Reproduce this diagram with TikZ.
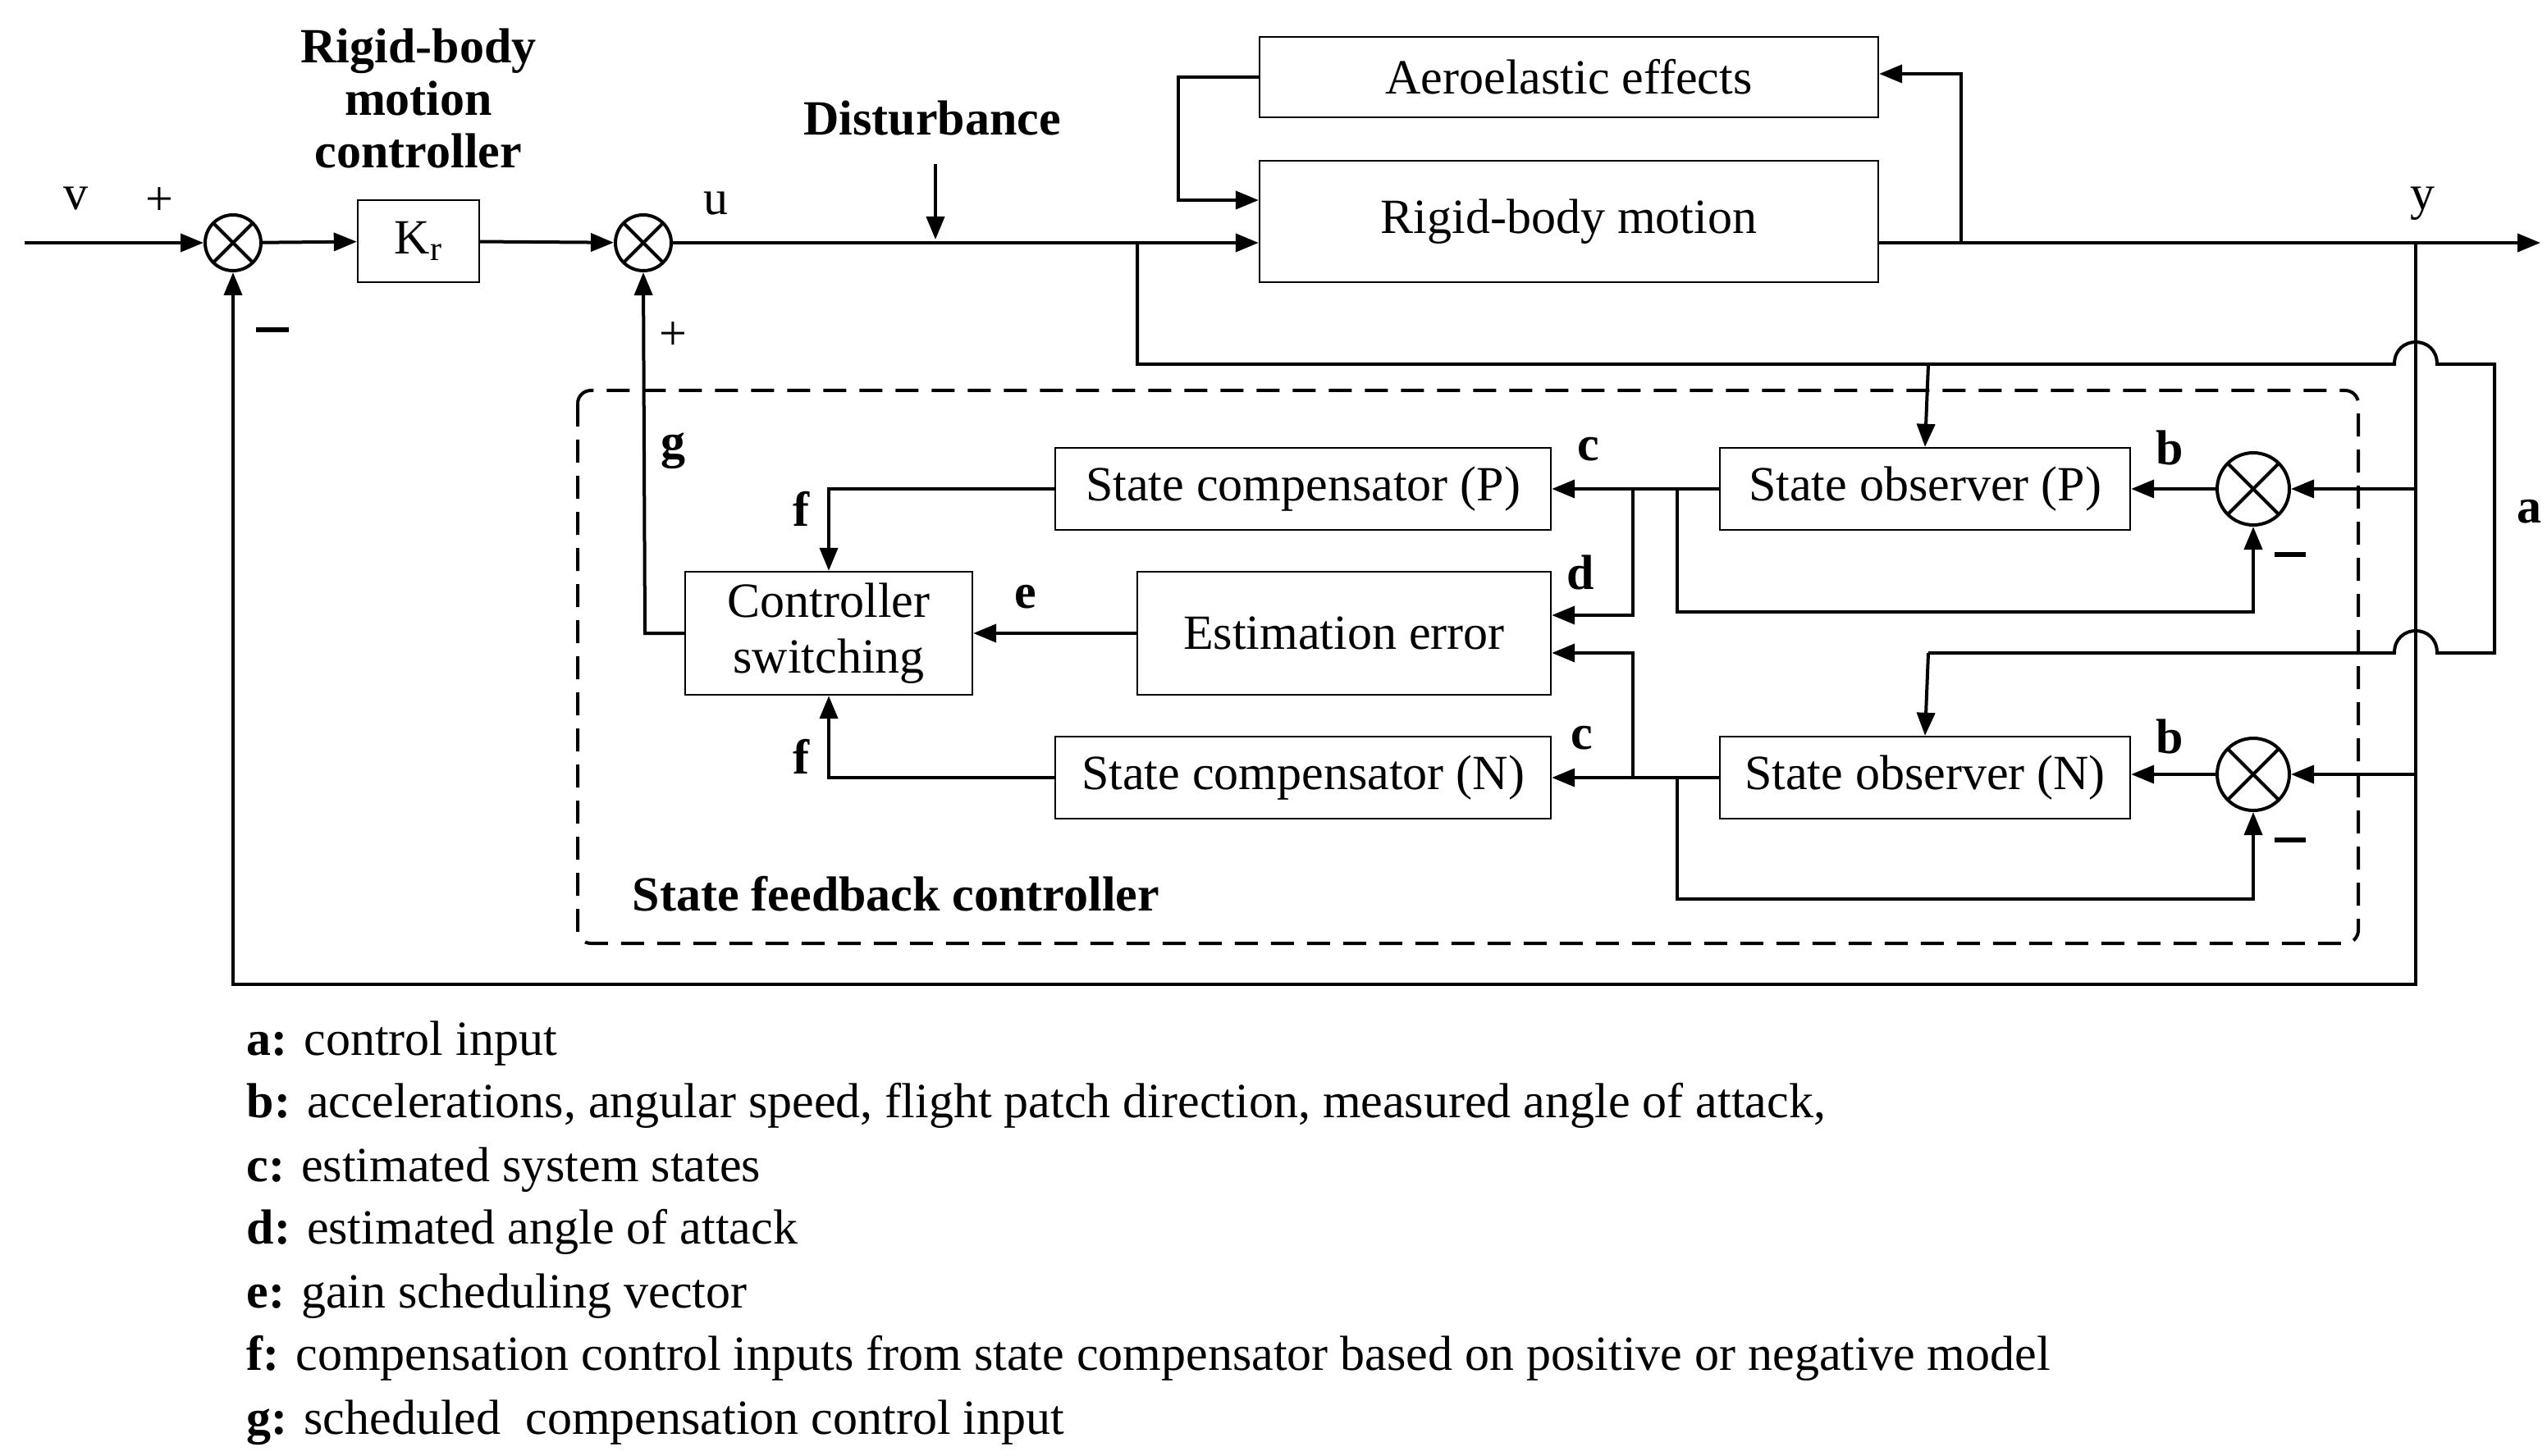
\documentclass[tikz,border=0pt]{standalone}
\usepackage{fontspec}
\setmainfont{Liberation Serif}
\usetikzlibrary{arrows.meta}
\begin{document}
\begin{tikzpicture}[x=1pt,y=-1pt,line width=2pt,
 every node/.style={font=\fontsize{30}{34}\selectfont},
 box/.style={draw,line width=1.2pt,inner sep=0pt,align=center},
 sum/.style={circle,draw,line width=2pt,minimum size=#1,inner sep=0pt,
   path picture={\draw[line width=2pt] (path picture bounding box.north west)--(path picture bounding box.south east)
   (path picture bounding box.north east)--(path picture bounding box.south west);}},
 arr/.style={-{Triangle[length=14pt,width=11pt]}},
 lab/.style={font=\fontsize{30}{32}\selectfont\bfseries},
 leg/.style={anchor=west,font=\fontsize{30}{32}\selectfont},
 minus/.style={line width=3pt}]
\useasboundingbox (0,0) rectangle (1552,887.5);
% nodes
\node[sum=34pt] (s1) at (142,148) {};
\node[box,minimum width=74pt,minimum height=50pt] (kr) at (255,147) {K$_\mathrm{r}$};
\node[sum=34pt] (s2) at (392,148) {};
\node[box,minimum width=377pt,minimum height=49pt] (ae) at (956,47) {Aeroelastic effects};
\node[box,minimum width=377pt,minimum height=74pt] (rb) at (956,135) {Rigid-body motion};
\node[box,minimum width=250pt,minimum height=50pt] (op) at (1173,298) {State observer (P)};
\node[box,minimum width=250pt,minimum height=50pt] (on) at (1173,474) {State observer (N)};
\node[box,minimum width=302pt,minimum height=50pt] (cp) at (794,298) {State compensator (P)};
\node[box,minimum width=302pt,minimum height=50pt] (cn) at (794,474) {State compensator (N)};
\node[box,minimum width=252pt,minimum height=75pt] (ee) at (819,386) {Estimation error};
\node[box,minimum width=175pt,minimum height=75pt] (cs) at (505,386) {Controller\\switching};
\node[sum=44pt] (sp) at (1373,298) {};
\node[sum=44pt] (sn) at (1373,472) {};
\draw[dash pattern=on 14pt off 8pt,line width=2pt,rounded corners=8pt] (352,238) rectangle (1437,575);
% labels
\node[lab,align=center] (t1) at (255,60) {Rigid-body\\motion\\controller};
\node (v) at (46,121) {v};
\node (p1) at (97,123) {+};
\node (u) at (436,124) {u};
\node (p2) at (410,205) {+};
\node[lab] (dist) at (568,72) {Disturbance};
\node (y) at (1476,124) {y};
\node[lab] (la) at (1541,312) {a};
\node[lab] (lb1) at (1322,273) {b};
\node[lab] (lb2) at (1322,449) {b};
\node[lab] (lc1) at (968,274) {c};
\node[lab] (lc2) at (964,450) {c};
\node[lab] (ld) at (963,349) {d};
\node[lab] (le) at (625,364) {e};
\node[lab] (lf1) at (488,310) {f};
\node[lab] (lf2) at (488,461) {f};
\node[lab] (lg) at (410,275) {g};
\node[lab] (sfc) at (546,545) {State feedback controller};
\draw[minus] (156,201) -- (176,201);
\draw[minus] (1386,338) -- (1405,338);
\draw[minus] (1386,512) -- (1405,512);
% legend
\node[leg] at (146,636) {\textbf{a:} control input};
\node[leg] at (146,674) {\textbf{b:} accelerations, angular speed, flight patch direction, measured angle of attack,};
\node[leg] at (146,713) {\textbf{c:} estimated system states};
\node[leg] at (146,751) {\textbf{d:} estimated angle of attack};
\node[leg] at (146,790) {\textbf{e:} gain scheduling vector};
\node[leg] at (146,828) {\textbf{f:} compensation control inputs from state compensator based on positive or negative model};
\node[leg] at (146,867) {\textbf{g:} scheduled\ \ compensation control input};
% coordinates
\coordinate (in) at (15,148);
\coordinate (out) at (1548,148);
\coordinate (dtop) at (570,100);
% connectors
\draw[arr] (in) -- (s1);
\draw[arr] (s1) -- (kr);
\draw[arr] (kr) -- (s2);
\draw[arr] (s2) -- (rb.west|-s2);
\draw[arr] (dtop) -- (570,146);
\draw[arr] (rb.east|-s2) -- (out);
\draw[arr] (1195,148) -- (1195,45) -- (ae.east|-1195,45);
\draw[arr] (ae.west) -- (718,47) -- (718,122) -- (rb.west|-718,122);
\draw (693,148) -- (693,222) -- (1459,222) .. controls (1459,204) and (1485,204) .. (1485,222) -- (1520,222) -- (1520,398) -- (1485,398) .. controls (1485,380) and (1459,380) .. (1459,398) -- (1175,398);
\draw[arr] (1175,398) -- (on.north);
\draw[arr] (1175,222) -- (op.north);
\draw[arr] (1472,148) -- (1472,600) -- (142,600) -- (s1.south);
\draw[arr] (1472,298) -- (sp.east);
\draw[arr] (1472,472) -- (sn.east);
\draw[arr] (sp.west) -- (op.east);
\draw[arr] (sn.west) -- (on.east|-sn);
\draw[arr] (op.west) -- (cp.east);
\draw[arr] (on.west) -- (cn.east);
\draw[arr] (995,298) -- (995,375) -- (ee.east|-995,375);
\draw[arr] (995,474) -- (995,398) -- (ee.east|-995,398);
\draw[arr] (1022,298) -- (1022,373) -- (1373,373) -- (sp.south);
\draw[arr] (1022,474) -- (1022,548) -- (1373,548) -- (sn.south);
\draw[arr] (cp.west) -- (505,298) -- (cs.north);
\draw[arr] (cn.west) -- (505,474) -- (cs.south);
\draw[arr] (ee.west) -- (cs.east);
\draw[arr] (cs.west) -- (393,386) -- (s2.south);
\end{tikzpicture}
\end{document}
